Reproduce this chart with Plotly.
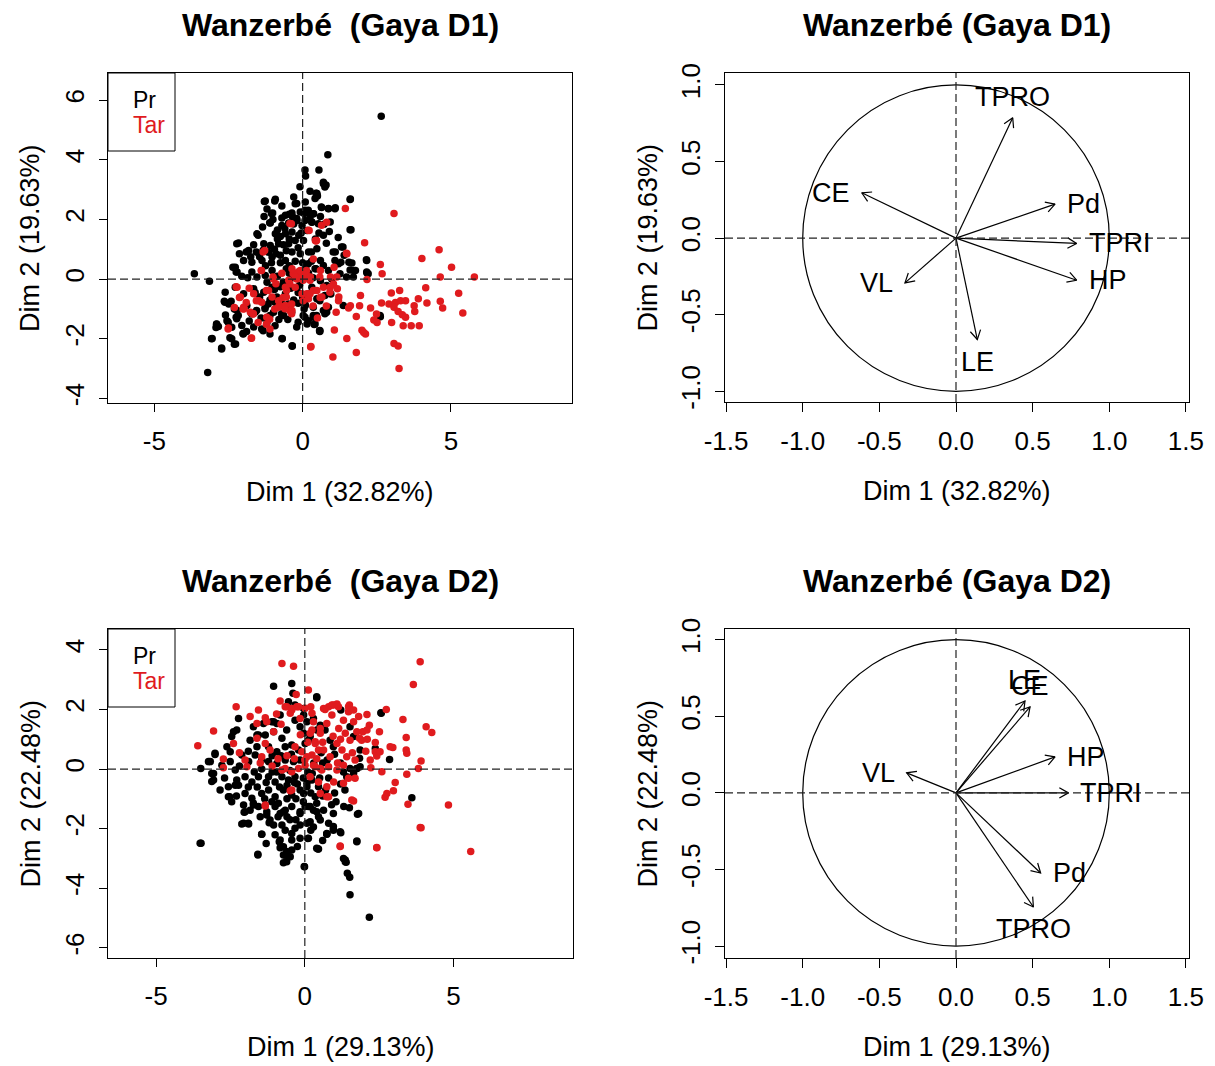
import math
import plotly.graph_objects as go

# page body has an 8px margin: the figure is drawn at (8, 8) inside the 1215x1066 window
OFF = 8
W, H = 1215 - OFF, 1066 - OFF
FONT = "Liberation Sans, Arial, sans-serif"
RED = "#E01B1E"

# ---------------- DATA ----------------
titles_ind = ["Wanzerbé\u00a0 (Gaya D1)", "Wanzerbé\u00a0 (Gaya D2)"]
titles_var = ["Wanzerbé (Gaya D1)", "Wanzerbé (Gaya D2)"]
dim1_labels = ["Dim 1 (32.82%)", "Dim 1 (29.13%)"]
dim2_labels = ["Dim 2 (19.63%)", "Dim 2 (22.48%)"]
groups = ["Pr", "Tar"]

# Individuals, D1 : group Pr (black)
d1_pr = [
    (2.65,5.46),(0.85,4.17),(0.08,3.66),(0.10,3.46),(0.55,3.66),(0.70,3.25),(0.79,3.16),(-0.09,3.10),(0.45,2.88),(0.50,2.79),
    (1.61,2.69),(-1.29,2.60),(-0.94,2.62),(-0.20,2.54),(0.08,2.31),(0.05,2.20),(0.64,2.40),(0.87,2.37),(1.10,2.39),(-1.05,2.20),
    (-0.45,2.18),(-0.34,2.09),(-0.20,2.03),(0.25,2.09),(0.31,1.92),(-1.11,1.89),(1.63,1.66),(0.72,1.84),(0.93,1.92),(-1.50,1.47),
    (-2.22,1.19),(-3.65,0.18),(-3.14,-0.07),(-3.20,-3.13),(-3.05,-1.99),(-2.73,-2.31),(-2.90,-1.51),(-2.92,-1.62),(-2.45,-1.96),(-2.30,-2.18),
    (-2.55,-1.39),(-2.64,-0.74),(-2.41,-0.74),(-2.30,-1.00),(-2.24,-1.28),(-2.01,-1.82),(-1.33,-1.73),(-0.69,-1.99),(-0.35,-2.25),(0.57,-1.73),
    (0.36,-1.28),(0.81,-1.11),(2.62,-1.26),(2.15,0.65),(2.17,0.21),(1.66,0.54),(1.72,0.29),(1.10,0.91),(1.21,0.52),(1.36,1.08),
    (-2.35,0.40),(-2.24,0.24),(-2.13,0.85),(-1.90,0.91),(-1.56,0.91),(-1.33,0.97),
    (-1.26,2.62),(-0.92,2.68),(-1.01,2.22),(-1.09,1.88),(0.09,2.59),(-0.25,2.53),(0.48,2.87),(0.63,2.42),(-0.58,2.14),(-0.36,2.22),
    (-0.08,2.25),(0.15,2.25),(0.37,2.19),(0.31,1.91),(-0.19,1.97),(-0.47,1.88),(-0.70,1.80),(-0.02,1.80),(0.15,1.63),(-1.54,1.52),
    (-0.92,1.52),(-0.75,1.43),(-0.58,1.52),(-0.36,1.58),(-0.13,1.47),(-2.16,1.21),(-1.82,0.96),(-1.31,1.19),(-1.09,1.13),(-0.81,1.19),
    (-0.47,1.19),(-0.25,1.30),(0.03,1.30),(0.43,1.35),(-1.99,0.63),(-1.71,0.57),(-2.27,0.40),(-2.21,0.24),(-1.37,0.63),(-1.03,0.74),
    (-0.75,0.80),(-0.58,0.63),(-0.36,0.91),(-0.08,0.85),(0.20,0.91),(0.48,1.02),(0.60,0.63),(-1.71,0.24),(-1.54,0.07),(-1.26,0.12),
    (-1.03,0.29),(-2.61,-0.44),(-2.27,-0.27),(-1.99,-0.49),(-1.65,-0.32),(-1.31,-0.44),(-1.03,-0.27),(-0.87,-0.60),(-0.58,-0.49),(-0.70,-0.83),
    (-2.49,-0.83),(-2.21,-1.05),(-1.88,-0.88),(-1.60,-1.11),(-1.26,-0.94),(-0.98,-1.11),(-0.64,-1.22),(0.31,-0.27),(0.48,-0.66),(0.09,-0.88),
    (-0.95,1.00),(-0.85,1.35),(-0.65,1.15),(-0.55,0.95),(-0.75,0.55),(-0.45,0.45),(-0.25,0.60),(-0.15,1.05),(-0.90,0.85),(-1.15,0.90),
    (-0.60,1.70),(-0.85,1.65),(-1.00,2.00),(-0.45,0.20),(-0.20,0.15),(-0.85,0.10),(-0.65,-0.10),(-0.40,-0.30),(-1.20,-0.10),(-0.10,-0.20),
    (0.10,0.40),(0.30,0.60),(0.20,0.20),(0.45,0.35),(-1.45,-0.60),(-1.10,-0.70),(-0.30,-0.70),(0.00,-0.60),(0.20,-0.50),(-1.80,-1.40),
    (-1.40,-1.30),(-0.20,-1.60),(0.15,-1.50),
    (-2.62,-0.77),(-2.28,-0.99),(-2.17,-1.22),(-2.22,-1.33),(-2.90,-1.50),(-2.84,-1.59),(-2.51,-1.44),(-2.39,-1.61),(-3.07,-2.00),(-2.73,-2.34),
    (-2.39,-2.00),(-2.26,-2.17),(-2.00,-1.84),(-1.89,-1.75),(-1.72,-1.16),(-1.55,-1.05),(-1.27,-0.99),(-1.10,-1.22),(-0.93,-1.56),(-1.10,-1.84),
    (-1.38,-1.67),(-0.71,-1.16),(-0.60,-0.94),(-0.37,-1.11),(-0.69,-2.00),(-0.35,-2.23),(-0.15,-1.44),(0.02,-1.22),(0.19,-1.39),(0.36,-1.22),
    (0.39,-1.52),(0.58,-1.75),(-1.16,-0.83),(-0.93,-0.77),(-0.48,-0.83),(-0.15,-0.81),(0.08,-0.85),
    (0.70,3.20),(0.75,3.09),(0.47,2.87),(0.42,2.70),(1.60,2.67),(0.87,2.36),(1.09,2.36),(0.19,2.31),(0.36,2.19),(0.08,1.97),
    (0.53,1.86),(1.60,1.66),(0.70,1.47),(1.03,0.91),(1.31,1.08),(1.09,0.63),(2.16,0.63),(1.56,0.57),(1.29,0.57),(1.60,0.31),
    (1.78,0.29),(2.16,0.24),(2.21,0.18),(1.26,0.18),(1.48,0.07),(1.71,0.07),(0.30,0.91),(0.19,0.52),(0.42,0.35),(0.70,0.46),
    (0.87,0.29),(0.98,0.01),(0.81,-0.21),(0.75,-0.55),(0.58,-0.72),(0.87,-0.94),(0.36,-0.94),(0.47,-1.22),(0.08,-1.28),(0.42,-1.50),
    (0.58,-1.72),(1.37,-0.88),(2.61,-1.22),(0.70,-1.05),(0.75,-1.16),
    (-1.35,1.75),(-1.20,2.35),(-0.70,2.45),(-0.30,2.75),(0.25,2.95),(0.60,2.10),(0.90,1.60),(1.20,1.40),(1.40,0.80),(-1.65,1.15),
    (-1.45,0.75),(-1.25,0.45),(-1.05,0.55),(-0.55,0.35),(-0.35,0.05),(0.00,0.55),(0.35,0.05),(0.60,-0.05),(0.95,-0.50),(-1.85,0.05),
    (-2.05,0.10),(-1.60,-0.45),(-0.95,-0.35),(-0.75,-0.25),(-0.15,-0.45),(0.05,-1.00),(-0.50,-1.35),(-0.80,-1.35),(-1.20,-1.45),(-1.65,-1.60),
    (-2.05,-1.55),(-2.60,-1.20),(-0.05,1.55),(-0.30,1.85),(-0.70,2.05),(-1.30,2.10),(0.55,1.55),(0.80,1.20),(-0.45,1.35),(-1.75,0.75),
]

# Individuals, D1 : group Tar (red)
d1_tar = [
    (3.08,2.20),(1.44,2.37),(4.60,0.99),(4.02,0.69),(5.02,0.40),(5.79,0.07),(4.64,0.07),(2.09,1.22),(2.62,0.49),(2.68,0.18),
    (1.49,0.85),(2.17,-0.01),(4.15,-0.29),(5.26,-0.47),(4.64,-0.74),(4.72,-0.97),(5.40,-1.13),(4.19,-0.80),(3.90,-0.66),(2.99,-0.46),
    (3.27,-0.38),(2.66,-0.80),(2.91,-0.83),(3.13,-0.78),(3.30,-0.72),(3.47,-0.72),(3.08,-0.94),(3.22,-1.08),(3.36,-1.19),(3.47,-1.28),
    (3.76,-0.89),(3.78,-1.08),(3.00,-1.45),(3.39,-1.56),(3.66,-1.56),(3.93,-1.56),(2.29,-0.97),(2.49,-1.17),(2.40,-1.37),(2.51,-1.45),
    (1.95,-0.55),(1.92,-0.89),(1.61,-0.89),(1.55,-0.97),(1.21,-0.72),(1.13,-1.11),(1.81,-1.25),(1.07,-1.70),(1.49,-1.99),(2.00,-1.71),
    (2.12,-1.84),(2.06,-1.79),(1.81,-2.46),(1.02,-2.61),(0.27,-2.27),(3.08,-2.16),(3.22,-2.24),(3.25,-2.99),(-1.73,-1.98),(-2.50,-1.64),
    (-2.01,-1.00),(-1.67,-1.17),(-1.33,0.91),(-0.43,1.87),(0.19,1.64),(0.45,1.28),(0.64,1.81),(-2.24,-0.25),(-2.13,-0.61),(-1.90,-0.78),
    (-1.56,-0.72),(-1.39,0.29),(-1.22,-0.38),(-1.00,0.07),
    (-0.32,0.18),(-0.15,0.24),(0.02,0.18),(0.14,0.12),(-0.09,0.07),(-0.20,0.01),(0.25,-0.04),(-0.43,-0.16),(-0.54,-0.38),(-0.66,-0.61),
    (-0.37,-0.83),(0.02,-0.72),(0.36,-0.38),(0.14,-0.49),(0.59,-0.61),(1.04,-0.16),(0.93,-0.27),(1.15,0.07),
    (-0.94,-1.00),(-0.77,-0.89),(-0.43,-1.06),(-1.11,-1.34),(-1.22,-1.51),
    (-0.38,1.86),(0.22,1.63),(0.43,1.30),(-1.28,0.96),(-1.39,0.29),(-0.98,0.01),(-0.36,0.35),(-0.08,0.29),(0.09,0.18),(0.26,0.07),
    (-0.25,0.07),(-0.47,-0.04),(-0.58,-0.27),(0.60,0.29),(-2.21,-0.27),(-2.10,-0.60),(-1.65,-0.49),(-1.48,-0.72),(-1.15,-0.38),(-1.03,-0.60),
    (-0.81,-0.72),(-0.58,-0.88),(-0.36,-1.05),(-1.99,-0.94),(-1.76,-1.11),(-0.25,-0.27),(-0.02,-0.49),(0.20,-0.66),(0.48,-0.38),(0.65,-0.60),
    (-2.51,-1.67),(-1.72,-1.97),(-1.97,-0.99),(-1.66,-1.16),(-1.21,-1.28),(-1.10,-1.67),(-0.37,-1.16),(-1.38,-0.77),(-0.82,-0.94),(-0.60,-0.99),
    (0.28,-2.26),(0.47,1.30),(0.81,1.91),(1.48,0.87),(1.06,0.40),(0.94,0.07),(1.17,-0.32),(1.22,-0.60),(0.58,0.07),(0.70,-0.27),
    (0.92,-0.44),(0.13,0.29),(0.02,-0.04),(0.25,-0.49),(0.36,0.68),
    (-0.90,-0.15),(-0.70,0.20),(-0.55,-0.60),(-1.80,-0.30),(-2.30,-0.95),(-1.50,-1.45),(0.35,-0.90),(0.80,-0.90),(0.50,-1.30),
]

# Individuals, D2 : group Pr (black)
d2_pr = [
    (-1.05,2.78),(-0.44,2.87),(-0.40,2.54),(0.40,2.39),(2.57,1.87),(2.85,0.32),(3.60,-0.96),(-3.50,0.02),(-3.24,0.25),(-3.13,-0.15),
    (-3.13,-0.42),(-3.02,0.49),(-3.49,-2.49),(-2.53,-0.93),(-2.34,-0.54),(-2.29,-0.37),(-2.04,-1.45),(-2.12,-1.84),(-1.89,-1.84),(-1.73,-1.21),
    (-1.45,-2.19),(-1.58,-2.88),(-0.86,-2.44),(-0.83,-2.64),(-0.72,-2.88),(-0.72,-3.14),(-0.61,-2.77),(-0.02,-3.27),(-0.44,-2.38),(-0.16,-2.32),
    (0.46,-2.68),(0.12,-2.32),(0.74,-2.19),(0.96,-1.93),(1.36,-3.05),(1.39,-3.13),(1.43,-3.50),(1.51,-3.63),(1.52,-4.22),(2.17,-4.97),
    (1.75,-2.41),(1.77,-1.52),(1.50,-1.30),(1.75,0.02),(1.84,0.36),(-2.23,1.70),(-2.40,1.25),(-1.73,1.42),(-1.61,1.14),(-0.83,1.81),
    (-1.05,1.59),(-0.04,2.03),(0.29,1.70),(0.52,1.47),
    (-0.33,2.15),(-0.55,2.26),(-0.94,1.53),(-1.39,1.53),(-1.11,1.59),(-2.29,1.31),(-2.46,1.09),(-1.56,1.14),(-2.62,0.75),(-2.51,0.58),
    (-3.02,0.53),(-3.18,0.25),(-3.07,-0.15),(-3.07,-0.37),(-2.79,0.13),(-2.51,0.25),(-2.34,-0.03),(-2.12,0.47),(-1.89,0.25),(-1.67,0.47),
    (-1.45,0.30),(-1.84,0.97),(-1.61,0.75),(-1.33,1.14),(-1.05,1.25),(-0.77,1.03),(-0.61,1.31),(-0.33,1.64),(-0.16,1.42),(-1.22,0.75),
    (-0.94,0.58),(-0.66,0.75),(-0.44,0.81),(-0.21,0.64),(0.01,0.86),(0.18,1.09),(0.40,1.31),(-1.22,0.25),(-0.94,0.19),(-0.66,0.30),
    (-0.38,0.25),(-0.16,0.30),(-2.85,-0.70),(-2.57,-0.59),(-2.23,-0.54),(-2.57,-0.93),(-2.46,-1.10),(-2.01,-0.26),(-1.78,-0.43),(-1.56,-0.26),
    (-2.01,-0.82),(-1.78,-0.98),(-1.45,-0.82),(-1.22,-0.26),(-1.00,-0.43),(-0.77,-0.26),(-0.55,-0.37),(-0.33,-0.26),(-1.22,-0.70),(-1.00,-0.93),
    (-0.72,-0.70),(-0.44,-0.87),(-0.16,-0.70),(0.07,-0.59),(-2.06,-1.21),(-1.84,-1.38),(-1.56,-1.26),(-1.28,-1.43),(-1.00,-1.26),(-0.72,-1.43),
    (-0.44,-1.26),(-0.16,-1.43),(0.12,-1.26),(0.40,-1.43),(0.24,-0.37),(0.46,-0.59),(0.35,-0.93),
    (-1.10,-0.10),(-0.85,-0.60),(-0.60,-1.00),(-0.30,-1.00),(-0.05,-1.10),(-1.35,-1.00),(-1.60,-0.60),(-0.90,-1.60),(-0.50,-1.70),(-1.20,-1.80),
    (-1.50,-1.60),(-0.25,-0.50),(-0.50,-0.05),(-0.80,0.45),(-1.45,0.00),(-1.70,-0.10),(0.10,-0.10),(0.30,0.20),(0.20,-0.80),(0.60,-0.90),
    (0.80,-0.30),(0.60,0.20),(1.00,-0.80),(1.20,-0.50),
    (-3.52,-2.49),(-1.58,-2.86),(-1.45,-2.19),(-2.06,-1.82),(-1.90,-1.82),(-2.01,-1.43),(-1.73,-1.15),(-1.28,-1.54),(-1.17,-1.71),(-1.05,-1.88),
    (-0.83,-1.49),(-0.66,-1.38),(-0.77,-1.88),(-0.83,-2.38),(-0.72,-2.61),(-0.66,-2.89),(-0.61,-3.11),(-0.49,-2.94),(-0.44,-2.72),(-0.66,-2.05),
    (-0.44,-2.16),(-0.33,-1.99),(-0.16,-1.88),(-0.16,-1.49),(0.01,-1.26),(0.18,-1.77),(-0.01,-3.28),(0.10,-2.33),(0.44,-2.68),(0.29,-1.38),
    (0.46,-1.60),(-1.11,-1.10),(-0.89,-1.15),
    (0.40,2.43),(1.21,1.98),(2.56,1.89),(-0.04,1.81),(0.07,1.59),(-0.04,1.20),(0.12,0.97),(0.68,1.31),(0.85,0.97),(0.96,0.75),
    (1.52,1.42),(1.64,1.09),(1.86,0.64),(2.37,0.69),(2.42,0.53),(1.52,0.02),(1.75,0.02),(1.86,0.08),(1.41,-0.26),(1.64,-0.15),
    (0.07,-0.48),(-0.04,-0.82),(0.18,-1.26),(0.40,-1.15),(0.63,-1.38),(0.07,-1.82),(0.29,-1.94),(0.52,-1.71),(0.80,-1.82),(0.96,-2.05),
    (1.31,-1.26),(1.81,-1.49),(1.75,-2.44),(1.19,-2.10),(0.74,-2.16),(0.96,-1.49),(0.40,-2.66),
    (0.74,-2.18),(0.96,-2.00),(1.21,-2.14),(1.30,-3.00),(1.36,-3.11),
    (-1.90,-0.60),(-1.30,-0.45),(-0.95,-0.10),(-0.60,-0.55),(-0.35,-0.45),(-0.05,-0.30),(0.25,-0.15),(0.50,-0.30),(0.70,-0.70),(1.05,-1.10),
    (1.35,-0.70),(0.90,-1.20),(-2.30,-0.90),(-2.70,-0.30),(-2.20,0.10),(-1.00,-2.20),(-1.30,-2.50),(-0.25,-2.60),(0.20,-2.05),(0.60,-2.40),
    (-0.60,-1.60),(-0.30,-1.70),(-1.90,0.60),(-1.10,0.45),(-0.45,0.50),(0.55,0.55),(0.75,0.30),(1.20,0.20),(1.00,0.50),(1.30,-0.10),
]

# Individuals, D2 : group Tar (red)
d2_tar = [
    (-0.77,3.54),(-0.38,3.45),(3.88,3.60),(3.65,2.84),(0.12,2.65),(-0.29,2.50),(-2.31,2.09),(-3.07,1.28),(-3.60,0.78),(-2.74,0.34),
    (-2.74,0.04),(-2.40,0.86),(-1.56,1.98),(-1.33,1.72),(-1.28,1.59),(-0.83,2.28),(-0.61,2.09),(-0.44,2.03),(-0.27,2.09),(0.20,2.09),
    (0.63,2.03),(0.80,2.09),(0.96,2.15),(1.13,2.09),(1.47,2.09),(1.47,1.92),(2.09,1.83),(2.74,2.00),(3.30,1.66),(4.08,1.42),
    (4.27,1.23),(2.17,1.47),(1.95,1.25),(1.84,1.03),(2.51,1.25),(2.37,0.89),(2.37,0.58),(2.42,0.44),(2.96,0.72),(3.41,1.06),
    (3.41,0.64),(3.43,0.53),(3.91,0.27),(3.82,0.02),(3.43,-0.17),(3.04,-0.45),(2.98,-0.73),(2.76,-0.82),(2.70,-0.95),(3.47,-1.18),
    (4.83,-1.21),(3.91,-1.97),(2.42,-2.64),(1.19,-2.60),(5.58,-2.77),(2.59,-0.09),(2.22,0.04),(1.69,-0.31),(1.64,-1.07),(-1.33,-1.24),
    (-0.49,-0.73),(0.80,-0.93),
    (-1.84,1.76),(-1.61,1.53),(-0.66,2.09),(-0.44,1.98),(-0.21,2.09),(0.01,2.04),(0.24,1.87),(-1.05,1.25),(-1.33,0.86),(-1.61,1.03),
    (-2.01,0.30),(-1.95,0.08),(-1.45,0.41),(-1.17,0.64),(-0.77,-0.03),(-0.66,0.02),(-0.44,-0.09),(-0.21,0.02),(0.01,0.13),(-0.33,0.75),
    (-0.10,0.58),(0.24,0.47),(0.46,0.64),(0.35,0.92),(0.52,1.20),(0.24,1.31),(0.35,0.08),(0.57,-0.03),(-0.44,-0.70),(-1.33,-1.21),
    (-0.49,1.87),(-0.16,1.70),
    (0.68,2.00),(0.91,2.15),(1.08,2.18),(1.50,2.15),(1.50,1.98),(2.09,1.31),(1.91,0.97),(1.64,1.98),(1.81,1.76),(1.64,1.59),
    (1.30,1.64),(1.14,1.36),(1.36,1.20),(1.52,0.97),(1.08,0.86),(1.25,0.64),(1.41,0.41),(1.69,0.30),(0.91,1.81),(0.74,1.53),
    (0.52,1.36),(0.29,1.59),(0.18,1.20),(0.35,0.86),(0.63,0.64),(0.85,0.41),(0.07,0.41),(0.29,0.13),(0.52,0.02),(0.80,0.08),
    (1.08,-0.03),(1.30,0.13),(0.18,-0.26),(0.46,-0.43),(0.74,-0.59),(0.97,-0.43),(1.30,-0.48),(1.47,-0.31),(0.52,-0.82),(0.74,-0.93),
    (1.58,-1.04),(2.53,0.58),(2.87,0.75),(2.20,0.30),(1.19,-2.58),(2.42,-2.63),(3.88,-1.96),
    (-1.10,0.10),(-0.90,0.35),(-0.60,0.45),(-1.50,0.20),
    (-0.95,1.85),(-0.15,1.15),(0.10,0.90),(0.60,0.90),(0.95,1.10),(1.20,1.00),(1.75,1.25),(2.05,0.60),(1.10,0.20),(0.40,0.35),
    (-0.35,0.35),(0.00,0.30),(1.60,0.55),(2.10,1.00),(-0.80,1.50),(-2.20,0.55),
]

# Variables (correlation circle coordinates)
var_names_d1 = ["TPRO", "Pd", "TPRI", "HP", "LE", "VL", "CE"]
var_dim1_d1 = [0.37, 0.646, 0.787, 0.787, 0.139, -0.333, -0.615]
var_dim2_d1 = [0.786, 0.222, -0.035, -0.275, -0.662, -0.292, 0.296]

var_names_d2 = ["LE", "CE", "HP", "TPRI", "Pd", "TPRO", "VL"]
var_dim1_d2 = [0.45, 0.483, 0.646, 0.733, 0.552, 0.505, -0.322]
var_dim2_d2 = [0.60, 0.562, 0.235, 0.0, -0.523, -0.745, 0.131]

ind_xticks = [-5, 0, 5]
ind_yticks_d1 = [-4, -2, 0, 2, 4, 6]
ind_yticks_d2 = [-6, -4, -2, 0, 2, 4]
var_xticks = [-1.5, -1.0, -0.5, 0.0, 0.5, 1.0, 1.5]
var_yticks = [-1.0, -0.5, 0.0, 0.5, 1.0]

# ---------------- LAYOUT GEOMETRY (window pixels) ----------------
panels = [
    dict(ax="", xpx=(108, 572), ypx=(73, 403), xr=(-6.56, 9.08), yr=(-4.15, 6.91)),
    dict(ax="2", xpx=(725, 1189), ypx=(73, 402), xr=(-1.507, 1.52), yr=(-1.07, 1.078)),
    dict(ax="3", xpx=(108, 573), ypx=(629, 958), xr=(-6.62, 9.02), yr=(-6.34, 4.70)),
    dict(ax="4", xpx=(725, 1189), ypx=(629, 958), xr=(-1.507, 1.52), yr=(-1.078, 1.07)),
]


def fx(px):
    return (px - OFF) / W


def fy(py):
    return 1 - (py - OFF) / H


fig = go.Figure()
layout = dict(width=W, height=H, margin=dict(l=0, r=0, t=0, b=0, pad=0, autoexpand=False),
              paper_bgcolor="white", plot_bgcolor="white", showlegend=False,
              font=dict(family=FONT, color="black"), template="none")

tick_sets = [
    (ind_xticks, ind_yticks_d1, False),
    (var_xticks, var_yticks, True),
    (ind_xticks, ind_yticks_d2, False),
    (var_xticks, var_yticks, True),
]

for p, (xt, yt, is_var) in zip(panels, tick_sets):
    a = p["ax"]
    if is_var:
        xtt = ["%.1f" % v for v in xt]
        ytt = ["%.1f" % v for v in yt]
    else:
        xtt = ["%d" % v for v in xt]
        ytt = ["%d" % v for v in yt]
    common = dict(ticks="outside", ticklen=9 if is_var else 8, tickwidth=1, tickcolor="black",
                  showline=True, linecolor="black", linewidth=1, mirror=True, automargin=False,
                  showgrid=False, zeroline=False, fixedrange=True,
                  tickfont=dict(size=26, color="black", family=FONT), tickmode="array")
    layout["xaxis" + a] = dict(common, domain=[fx(p["xpx"][0]), fx(p["xpx"][1])], range=list(p["xr"]),
                               tickvals=xt, ticktext=xtt, anchor="y" + a, ticklabelstandoff=7)
    layout["yaxis" + a] = dict(common, domain=[fy(p["ypx"][1]), fy(p["ypx"][0])], range=list(p["yr"]),
                               tickvals=yt, ticktext=ytt, anchor="x" + a, tickangle=-90, ticklabelstandoff=5)

fig.update_layout(**layout)

shapes = []
annotations = []

# individuals panels
for p, pr, tar in [(panels[0], d1_pr, d1_tar), (panels[2], d2_pr, d2_tar)]:
    a = p["ax"]
    for pts, col in [(pr, "black"), (tar, RED)]:
        fig.add_trace(go.Scatter(x=[q[0] for q in pts], y=[q[1] for q in pts], mode="markers",
                                 marker=dict(color=col, size=7.5, line=dict(width=0)),
                                 xaxis="x" + a, yaxis="y" + a, hoverinfo="skip"))

# variable panels
for p, names, vx, vy in [(panels[1], var_names_d1, var_dim1_d1, var_dim2_d1),
                         (panels[3], var_names_d2, var_dim1_d2, var_dim2_d2)]:
    a = p["ax"]
    X, Y = [], []
    head, ang = 0.068, math.radians(30)
    for x, y in zip(vx, vy):
        d = math.atan2(y, x)
        X += [0, x, None, x - head * math.cos(d - ang), x, x - head * math.cos(d + ang), None]
        Y += [0, y, None, y - head * math.sin(d - ang), y, y - head * math.sin(d + ang), None]
    fig.add_trace(go.Scatter(x=X, y=Y, mode="lines", line=dict(color="black", width=1.2),
                             xaxis="x" + a, yaxis="y" + a, hoverinfo="skip"))
    for n, x, y in zip(names, vx, vy):
        if abs(x) >= abs(y):
            if x >= 0:
                kw = dict(xanchor="left", yanchor="middle", xshift=10, yshift=0)
            else:
                kw = dict(xanchor="right", yanchor="middle", xshift=-10, yshift=0)
        else:
            if y >= 0:
                kw = dict(xanchor="center", yanchor="bottom", xshift=0, yshift=4)
            else:
                kw = dict(xanchor="center", yanchor="top", xshift=0, yshift=-5)
        annotations.append(dict(x=x, y=y, xref="x" + a, yref="y" + a, text=n, showarrow=False,
                                font=dict(size=27, color="black", family=FONT), **kw))
    shapes.append(dict(type="circle", xref="x" + a, yref="y" + a, x0=-1, y0=-1, x1=1, y1=1,
                       line=dict(color="black", width=1.2)))

# dashed zero lines
for p in panels:
    a = p["ax"]
    shapes.append(dict(type="line", xref="x" + a, yref="y" + a + " domain", x0=0, x1=0, y0=0, y1=1,
                       line=dict(color="#222", width=1.2, dash="8px,4px")))
    shapes.append(dict(type="line", xref="x" + a + " domain", yref="y" + a, x0=0, x1=1, y0=0, y1=0,
                       line=dict(color="#222", width=1.2, dash="8px,4px")))

# titles & axis titles
for i, (pi, pv) in enumerate([(panels[0], panels[1]), (panels[2], panels[3])]):
    for p, title in [(pi, titles_ind[i]), (pv, titles_var[i])]:
        cx = (p["xpx"][0] + p["xpx"][1]) / 2
        cy = (p["ypx"][0] + p["ypx"][1]) / 2
        annotations.append(dict(x=fx(cx), y=fy(p["ypx"][0] - 48), xref="paper", yref="paper",
                                text="<b>%s</b>" % title, showarrow=False, xanchor="center", yanchor="middle",
                                font=dict(size=32, color="black", family=FONT)))
        annotations.append(dict(x=fx(cx), y=fy(p["ypx"][1] + 89), xref="paper", yref="paper",
                                text=dim1_labels[i], showarrow=False, xanchor="center", yanchor="middle",
                                font=dict(size=27, color="black", family=FONT)))
        annotations.append(dict(x=fx(p["xpx"][0] - 78), y=fy(cy), xref="paper", yref="paper",
                                text=dim2_labels[i], showarrow=False, xanchor="center", yanchor="middle",
                                textangle=-90, font=dict(size=27, color="black", family=FONT)))
    # legend box
    x0, y0 = pi["xpx"][0], pi["ypx"][0]
    shapes.append(dict(type="rect", xref="paper", yref="paper", x0=fx(x0), x1=fx(x0 + 67),
                       y0=fy(y0 + 78), y1=fy(y0), line=dict(color="black", width=1), fillcolor="white",
                       layer="above"))
    for k, (g, col) in enumerate(zip(groups, ["black", RED])):
        annotations.append(dict(x=fx(x0 + 23), y=fy(y0 + 27 + 25 * k), xref="paper", yref="paper",
                                text=g, showarrow=False, xanchor="left", yanchor="middle",
                                font=dict(size=23, color=col, family=FONT)))

fig.update_layout(shapes=shapes, annotations=annotations)
fig.write_html("out.html")
